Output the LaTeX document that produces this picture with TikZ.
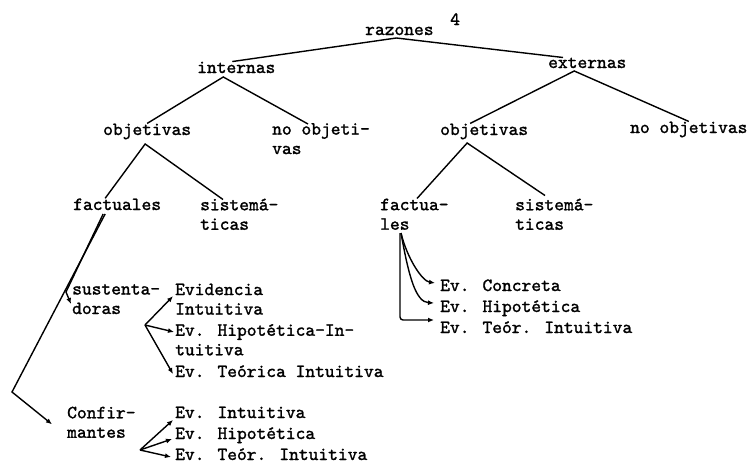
\documentclass[tikz,border=0pt]{standalone}
\usepackage{fontspec}
\newfontfamily\typew{lmmono10-regular.otf}[FakeBold=1.4]
\usetikzlibrary{arrows.meta,calc}

\begin{document}
\begin{tikzpicture}[
    x=1pt, y=-1pt,
    txt/.style={inner sep=0pt, anchor=base west, font=\fontsize{18.6}{19.5}\selectfont\typew},
    mtxt/.style={txt, anchor=north west, align=left},
    branch/.style={line width=1.4pt},
    wire/.style={line width=1.4pt, -{Latex[length=6pt,width=5pt]}}
  ]
  \useasboundingbox (0,0) rectangle (756,463);

  % upper tree
  \node[txt] (num) at (450,25) {4};
  \node[txt] (razones) at (365,35) {razones};
  \node[txt] (internas) at (197,73) {internas};
  \node[txt] (externas) at (548,68) {externas};
  \node[txt] (objL) at (103,135) {objetivas};
  \node[mtxt] (noobjL) at (272,123) {no objeti-\\vas};
  \node[txt] (objR) at (440,135) {objetivas};
  \node[txt] (noobjR) at (630,133) {no objetivas};
  \node[txt] (factL) at (73,210) {factuales};
  \node[mtxt] (sistL) at (200,198.5) {sistemá-\\ticas};
  \node[mtxt] (factR) at (380,198.5) {factua-\\les};
  \node[mtxt] (sistR) at (515,198.5) {sistemá-\\ticas};

  % evidencias
  \node[mtxt] (sust) at (72,284) {sustenta-\\doras};
  \node[mtxt] (evid) at (175,283.5) {Evidencia\\Intuitiva};
  \node[mtxt] (evhip) at (175,324) {Ev. Hipotética-In-\\tuitiva};
  \node[txt] (evteo) at (175,377) {Ev. Teórica Intuitiva};
  \node[mtxt] (conf) at (67,406.5) {Confir-\\mantes};
  \node[txt] (cint) at (175,418) {Ev. Intuitiva};
  \node[txt] (chip) at (175,439) {Ev. Hipotética};
  \node[txt] (cteo) at (175,460) {Ev. Teór. Intuitiva};
  \node[txt] (rcon) at (440,291) {Ev. Concreta};
  \node[txt] (rhip) at (440,312) {Ev. Hipotética};
  \node[txt] (rteo) at (440,333) {Ev. Teór. Intuitiva};

  \coordinate (intB) at ($(internas.base)+(-13,4)$);
  \coordinate (extB) at ($(externas.base)+(-13,3)$);
  \coordinate (objLB) at ($(objL.base)+(-2,9)$);
  \coordinate (objRB) at ($(objR.base)+(-17,8)$);
  \coordinate (factLo) at ($(factL.base)+(-12,4)$);
  \coordinate (factRo) at ($(factR.north west)+(21,34.5)$);
  \coordinate (sustB) at ($(sust.north west)+(73,41)$);
  \coordinate (confB) at ($(conf.north west)+(73,43.5)$);

  \draw[branch] ($(internas.north)+(-4,0)$) -- ($(razones.base)+(-3,3)$) -- ($(externas.north west)+(15,0)$);
  \draw[branch] (objL.north) -- (intB) -- ($(noobjL.north west)+(36,1)$);
  \draw[branch] ($(objR.north)+(-14,0)$) -- (extB) -- (noobjR.north);
  \draw[branch] ($(factL.north)+(-12,0)$) -- (objLB) -- ($(sistL.north west)+(23,1)$);
  \draw[branch] ($(factR.north west)+(37,0)$) -- (objRB) -- ($(sistR.north west)+(30,-3)$);

  % factuales (izq.)
  \draw[wire] (factLo) -- ($(conf.north west)+(-55,-14.5)$) -- ($(conf.west)+(-15,2)$);
  \draw[wire] ($(factLo)+(-2,0)$) -- ($(sust.north west)+(-6,8)$) -- ($(sust.north west)+(-1,20)$);
  \draw[wire] (sustB) -- ($(evid.west)+(-2,-3)$);
  \draw[wire] (sustB) -- ($(evhip.north west)+(-1,8)$);
  \draw[wire] (sustB) -- ($(evteo.base west)+(-2,-3)$);
  \draw[wire] (confB) -- ($(cint.base west)+(-2,2)$);
  \draw[wire] (confB) -- ($(chip.base west)+(-3,0)$);
  \draw[wire] (confB) -- ($(cteo.base west)+(-4,-3)$);

  % factuales (der.)
  \draw[wire] (factRo) .. controls ($(factRo)+(6,25)$) and ($(rcon.base west)+(-18,-10)$) .. ($(rcon.base west)+(-5,-8)$);
  \draw[wire] (factRo) .. controls ($(factRo)+(8,45)$) and ($(rhip.base west)+(-24,-10)$) .. ($(rhip.base west)+(-6,-9)$);
  \draw[wire, rounded corners=3pt] ($(factRo)+(-1,0)$) -- ($(rteo.base west)+(-40,-13)$) -- ($(rteo.base west)+(-6,-13)$);
\end{tikzpicture}
\end{document}
